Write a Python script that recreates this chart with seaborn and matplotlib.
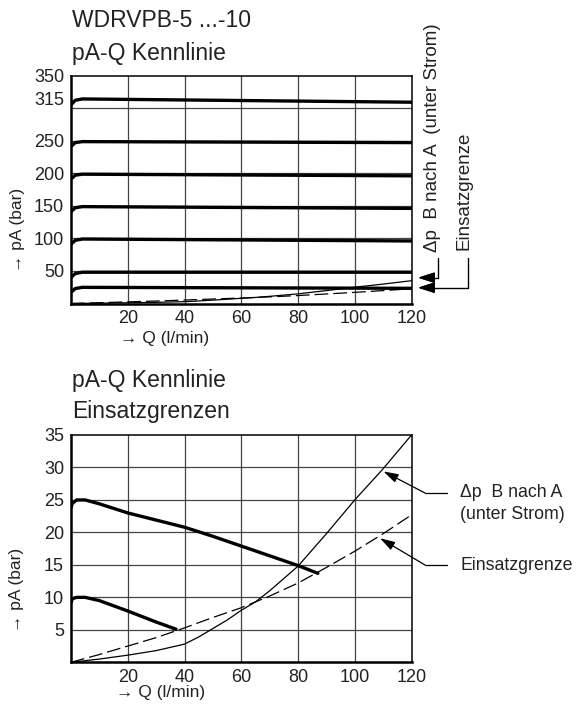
import pandas as pd
import numpy as np
import matplotlib.pyplot as plt
import seaborn as sns
from matplotlib.lines import Line2D

# --- data ---
# upper chart: pA-Q curves for the different settings (0..350 bar)
q_set = [0, 1.5, 4, 120]
p_315 = [305, 312, 314, 309]
p_250 = [241, 247, 248.5, 247]
p_200 = [191, 197, 198.5, 196]
p_150 = [141, 147, 148.7, 146]
p_100 = [91, 97, 99, 96]
p_50 = [40, 46, 48, 48]
p_25 = [17, 23, 24.8, 23.3]

# lower chart: low-pressure settings
q_hi = [0, 0.5, 2, 5, 10, 20, 30, 40, 50, 60, 70, 80, 87]
p_hi = [23.8, 24.5, 25, 25, 24.4, 23.0, 21.9, 20.8, 19.4, 17.9, 16.4, 14.9, 13.7]
q_lo = [0, 0.5, 2, 5, 10, 20, 30, 37]
p_lo = [9.2, 9.8, 10, 10, 9.5, 7.9, 6.2, 5.1]

# Δp B nach A (unter Strom) and Einsatzgrenze
q_dp = [0, 10, 20, 30, 40, 45, 50, 55, 60, 65, 70, 80, 90, 100, 110, 120]
p_dp = [0, 0.5, 1.1, 1.8, 2.8, 3.9, 5.2, 6.5, 8.0, 9.3, 11.0, 14.8, 19.8, 25.0, 29.8, 35.0]
q_eg = [0, 10, 20, 30, 40, 50, 60, 70, 80, 90, 100, 110, 120]
p_eg = [0, 1.2, 2.5, 3.8, 5.3, 6.9, 8.4, 10.2, 12.2, 14.6, 17.1, 19.8, 22.7]

x_ticks = [20, 40, 60, 80, 100, 120]
x_grid = [20, 40, 60, 80, 100]
top_yticks = [50, 100, 150, 200, 250, 315, 350]
top_ygrid = [50, 100, 150, 200, 250, 300]
bot_yticks = [5, 10, 15, 20, 25, 30, 35]
bot_ygrid = [5, 10, 15, 20, 25, 30]

top_thick = pd.concat([
    pd.DataFrame({'Q': q_set, 'pA': p, 'curve': name})
    for name, p in [('315', p_315), ('250', p_250), ('200', p_200), ('150', p_150),
                    ('100', p_100), ('50', p_50), ('25', p_25)]
])
bot_thick = pd.concat([
    pd.DataFrame({'Q': q_hi, 'pA': p_hi, 'curve': 'hi'}),
    pd.DataFrame({'Q': q_lo, 'pA': p_lo, 'curve': 'lo'}),
])
dp = pd.DataFrame({'Q': q_dp, 'pA': p_dp})
eg = pd.DataFrame({'Q': q_eg, 'pA': p_eg})

sns.set_style('white')
plt.rcParams['font.family'] = ['Liberation Sans', 'DejaVu Sans']
TXT = '#222222'

W, H = 576, 709
fig = plt.figure(figsize=(W / 100, H / 100), dpi=100)


def px(x, y):
    return (x / W, 1 - y / H)


def style_axes(ax, ymax, yticks, ygrid):
    ax.set_xlim(0, 120)
    ax.set_ylim(0, ymax)
    ax.xaxis.remove_overlapping_locs = False
    ax.yaxis.remove_overlapping_locs = False
    ax.set_xticks(x_ticks)
    ax.set_xticks(x_grid, minor=True)
    ax.set_yticks(yticks)
    ax.set_yticks(ygrid, minor=True)
    ax.grid(False, which='major')
    ax.grid(True, which='minor', color='#444444', lw=0.9)
    ax.set_axisbelow(True)
    ax.tick_params(which='both', length=0, labelsize=13, colors=TXT, pad=5)
    ax.set_xlabel('')
    ax.set_ylabel('')
    for s in ['left', 'bottom']:
        ax.spines[s].set_linewidth(1.8)
    for s in ['top', 'right']:
        ax.spines[s].set_linewidth(1.1)
    for s in ax.spines.values():
        s.set_color('black')


def draw_curves(ax, thick):
    sns.lineplot(data=thick, x='Q', y='pA', units='curve', estimator=None, sort=False,
                 color='black', lw=2.4, legend=False, ax=ax)
    sns.lineplot(data=dp, x='Q', y='pA', estimator=None, sort=False,
                 color='black', lw=0.9, legend=False, ax=ax)
    sns.lineplot(data=eg, x='Q', y='pA', estimator=None, sort=False,
                 color='black', lw=0.9, legend=False, ax=ax)
    ax.lines[-1].set_dashes((11, 4))


# ---------- upper chart ----------
ax1 = fig.add_axes([71 / W, 1 - 303.5 / H, 340.5 / W, 228 / H])
draw_curves(ax1, top_thick)
style_axes(ax1, 350, top_yticks, top_ygrid)

fig.text(*px(72, 27), 'WDRVPB-5 ...-10', fontsize=16.5, color=TXT, ha='left', va='baseline')
fig.text(*px(72, 60), 'pA-Q Kennlinie', fontsize=16.5, color=TXT, ha='left', va='baseline')
fig.text(*px(18, 230), '→ pA (bar)', fontsize=12.5, color=TXT, rotation=90, ha='center', va='center')
fig.text(*px(165, 339), '→ Q (l/min)', fontsize=12.5, color=TXT, ha='center', va='center')

fig.text(*px(437, 252), 'Δp  B nach A  (unter Strom)', fontsize=13.5, color=TXT,
         rotation=90, rotation_mode='anchor', ha='left', va='baseline')
fig.text(*px(468, 250), 'Einsatzgrenze', fontsize=13.5, color=TXT,
         rotation=90, rotation_mode='anchor', ha='left', va='baseline')

for y_arr, x_up in [(277.7, 438.3), (287.7, 468.3)]:
    xs, ys = zip(px(428, y_arr), px(x_up, y_arr), px(x_up, 258))
    fig.add_artist(Line2D(xs, ys, color='black', lw=1.0, transform=fig.transFigure))
    fig.add_artist(plt.annotate('', xy=px(418, y_arr), xycoords='figure fraction',
                                xytext=px(430, y_arr), textcoords='figure fraction',
                                arrowprops=dict(arrowstyle='-|>,head_length=1.0,head_width=0.32',
                                                mutation_scale=10, color='black', lw=1.0,
                                                shrinkA=0, shrinkB=0)))

# ---------- lower chart ----------
ax2 = fig.add_axes([71 / W, 1 - 662.3 / H, 340.5 / W, 227.3 / H])
draw_curves(ax2, bot_thick)
style_axes(ax2, 35, bot_yticks, bot_ygrid)

fig.text(*px(72, 387), 'pA-Q Kennlinie', fontsize=16.5, color=TXT, ha='left', va='baseline')
fig.text(*px(72, 418), 'Einsatzgrenzen', fontsize=16.5, color=TXT, ha='left', va='baseline')
fig.text(*px(17, 590), '→ pA (bar)', fontsize=12.5, color=TXT, rotation=90, ha='center', va='center')
fig.text(*px(161, 693), '→ Q (l/min)', fontsize=12.5, color=TXT, ha='center', va='center')

fig.text(*px(460, 497), 'Δp  B nach A', fontsize=12.8, color=TXT, ha='left', va='baseline')
fig.text(*px(460, 519), '(unter Strom)', fontsize=12.8, color=TXT, ha='left', va='baseline')
fig.text(*px(460, 570), 'Einsatzgrenze', fontsize=12.8, color=TXT, ha='left', va='baseline')

for y_txt, tip in [(493, (110.1, 29.4)), (565, (108.9, 19.1))]:
    xs, ys = zip(px(425, y_txt), px(447, y_txt))
    fig.add_artist(Line2D(xs, ys, color='black', lw=0.9, transform=fig.transFigure))
    ax2.annotate('', xy=tip, xycoords='data',
                 xytext=px(425, y_txt), textcoords='figure fraction',
                 arrowprops=dict(arrowstyle='-|>,head_length=1.0,head_width=0.3',
                                 mutation_scale=9, color='black', lw=0.9,
                                 shrinkA=0, shrinkB=0), annotation_clip=False)

fig.savefig('out.png', dpi=100)
